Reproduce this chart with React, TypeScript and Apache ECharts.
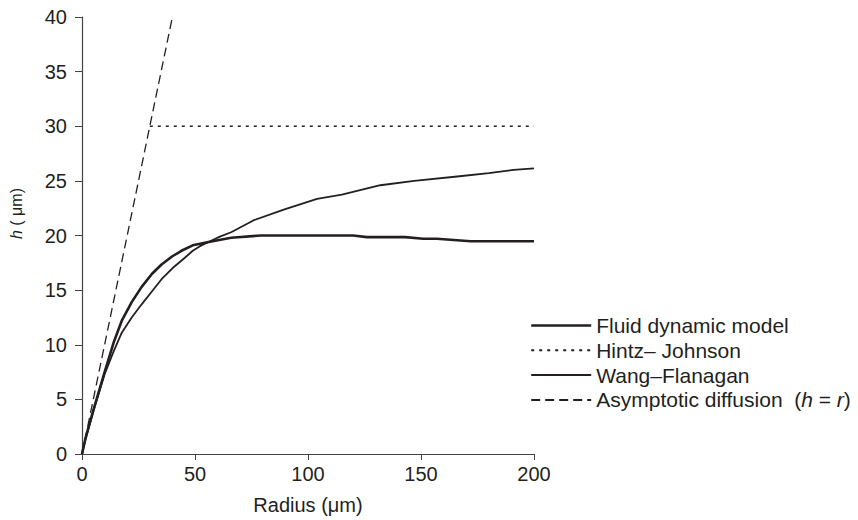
import React, { useEffect, useRef } from "react";
import * as echarts from "echarts";

const xTicks = [0, 50, 100, 150, 200];
const yTicks = [0, 5, 10, 15, 20, 25, 30, 35, 40];

const seriesNames = ["Fluid dynamic model", "Hintz– Johnson", "Wang–Flanagan", "Asymptotic diffusion"];

const fluidDynamic: number[][] = [
  [0, 0], [1.5, 1.4], [5, 4.0], [10, 7.5], [14, 10.2], [17.6, 12.2], [22, 13.9],
  [26.4, 15.3], [31, 16.5], [35.2, 17.35], [40, 18.1], [44, 18.6], [49, 19.1],
  [56, 19.4], [66, 19.8], [79, 20.0], [100, 20.0], [120, 20.0], [126, 19.85],
  [143, 19.85], [151, 19.7], [157, 19.7], [172, 19.48], [200, 19.48],
];

const hintzJohnson: number[][] = [
  [30, 30], [200, 30],
];

const wangFlanagan: number[][] = [
  [0, 0], [1.5, 1.3], [5, 3.9], [10, 7.3], [14, 9.4], [17.6, 11.1], [22, 12.5],
  [26.4, 13.7], [31, 14.9], [35.2, 16.0], [40, 17.0], [45.5, 17.96], [49, 18.6],
  [52, 19.0], [56, 19.4], [61, 19.9], [66, 20.3], [76, 21.4], [89.6, 22.4],
  [104, 23.35], [115, 23.75], [132, 24.6], [147, 25.0], [166, 25.4], [180, 25.7],
  [191, 26.0], [200, 26.15],
];

const asymptotic: number[][] = [
  [0, 0], [40, 40],
];

const INK = "#231f20";
const FONT = "'Liberation Sans', Arial, Helvetica, sans-serif";

export default function App() {
  const ref = useRef<HTMLDivElement>(null);

  useEffect(() => {
    if (!ref.current) return;
    const chart = echarts.init(ref.current, undefined, { renderer: "svg" });
    chart.setOption({
      animation: false,
      backgroundColor: "#ffffff",
      textStyle: { fontFamily: FONT },
      grid: { left: 80, top: 17, width: 454, height: 438, containLabel: false },
      xAxis: {
        type: "value",
        min: xTicks[0],
        max: xTicks[xTicks.length - 1],
        interval: 50,
        name: "Radius (μm)",
        nameLocation: "middle",
        nameGap: 41,
        nameTextStyle: { fontSize: 20, color: INK, fontFamily: FONT },
        axisLine: { show: true, lineStyle: { color: "#444", width: 1.2 } },
        axisTick: { show: true, inside: false, length: 6, lineStyle: { color: "#444" } },
        axisLabel: { fontSize: 20, color: INK, margin: 10, fontFamily: FONT },
        splitLine: { show: false },
      },
      yAxis: {
        type: "value",
        min: yTicks[0],
        max: yTicks[yTicks.length - 1],
        interval: 5,
        name: "{i|h} ( μm)",
        nameLocation: "middle",
        nameGap: 58,
        nameTextStyle: {
          fontSize: 16,
          color: INK,
          fontFamily: FONT,
          padding: [0, 0, 0, 44],
          rich: { i: { fontStyle: "italic", fontSize: 16, color: INK, fontFamily: FONT } },
        },
        axisLine: { show: true, lineStyle: { color: "#444", width: 1.2 } },
        axisTick: { show: true, inside: false, length: 7, lineStyle: { color: "#444" } },
        axisLabel: { fontSize: 20, color: INK, margin: 15, fontFamily: FONT },
        splitLine: { show: false },
      },
      legend: {
        orient: "vertical",
        left: 525,
        top: 310,
        itemWidth: 60,
        itemHeight: 20,
        itemGap: 3.8,
        data: [
          { name: seriesNames[0], lineStyle: { width: 2.4 } },
          { name: seriesNames[1] },
          { name: seriesNames[2], lineStyle: { width: 2.0 } },
          { name: seriesNames[3] },
        ],
        itemStyle: { color: "transparent", borderColor: "transparent", borderWidth: 0, opacity: 0 },
        formatter: (name: string) =>
          name === "Asymptotic diffusion" ? "Asymptotic diffusion  ({i|h} = {i|r})" : name,
        textStyle: {
          fontSize: 21,
          lineHeight: 20,
          color: INK,
          fontFamily: FONT,
          rich: { i: { fontStyle: "italic", fontSize: 21, color: INK, fontFamily: FONT } },
        },
      },
      series: [
        {
          name: seriesNames[0],
          type: "line",
          data: fluidDynamic,
          showSymbol: false,
          symbol: "none",
          lineStyle: { color: INK, width: 2.6 },
          itemStyle: { color: INK },
          z: 4,
        },
        {
          name: seriesNames[1],
          type: "line",
          data: hintzJohnson,
          showSymbol: false,
          symbol: "none",
          lineStyle: { color: INK, width: 1.3, type: [3, 5] },
          itemStyle: { color: INK },
        },
        {
          name: seriesNames[2],
          type: "line",
          data: wangFlanagan,
          showSymbol: false,
          symbol: "none",
          lineStyle: { color: INK, width: 1.8 },
          itemStyle: { color: INK },
          z: 3,
        },
        {
          name: seriesNames[3],
          type: "line",
          data: asymptotic,
          showSymbol: false,
          symbol: "none",
          lineStyle: { color: INK, width: 1.3, type: [9, 5] },
          itemStyle: { color: INK },
        },
      ],
    });
    return () => chart.dispose();
  }, []);

  return (
    <div
      ref={ref}
      style={{ position: "fixed", left: 0, top: 0, width: 858, height: 520, background: "#fff" }}
    />
  );
}
